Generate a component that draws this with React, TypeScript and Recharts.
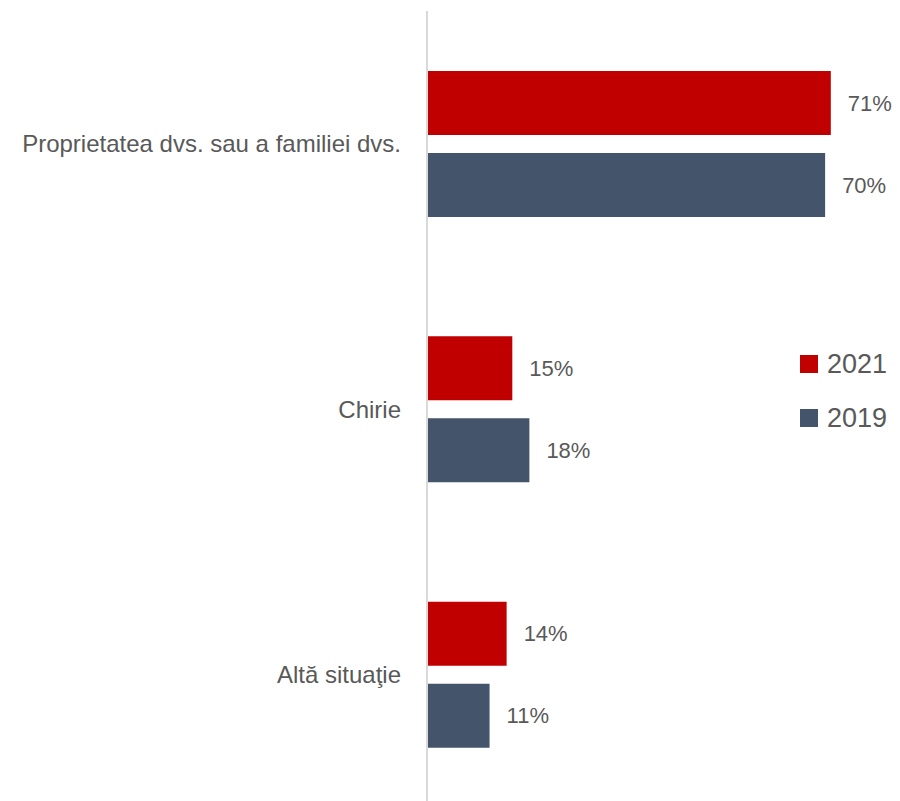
import React from 'react'
import { BarChart, Bar, XAxis, YAxis, LabelList } from 'recharts'

const categories = ['Proprietatea dvs. sau a familiei dvs.', 'Chirie', 'Altă situaţie']
const values2021 = [71, 15, 14]
const values2019 = [70, 18, 11]

const SERIES = [
  { key: 'y2021', name: '2021', color: '#C00000' },
  { key: 'y2019', name: '2019', color: '#44546A' },
]

const FONT = '"Liberation Sans", Arial, sans-serif'
const TEXT = '#595959'

const data = categories.map((name, i) => ({ name, y2021: values2021[i], y2019: values2019[i] }))

export default function App() {
  return (
    <div style={{ position: 'absolute', left: 0, top: 0, width: 900, height: 801, overflow: 'hidden', background: '#fff' }}>
      <BarChart
        width={900}
        height={807}
        data={data}
        layout="vertical"
        margin={{ top: 11, right: 18, bottom: 0, left: 0 }}
        barGap={18}
      >
        <XAxis type="number" domain={[0, 80]} hide />
        <YAxis
          type="category"
          dataKey="name"
          width={427}
          axisLine={{ stroke: '#d9d9d9', strokeWidth: 2 }}
          tickLine={false}
          tickSize={0}
          tickMargin={26}
          tick={{ fill: TEXT, fontSize: 24, fontFamily: FONT }}
        />
        {SERIES.map((s) => (
          <Bar key={s.key} dataKey={s.key} name={s.name} fill={s.color} barSize={64} isAnimationActive={false}>
            <LabelList
              dataKey={s.key}
              position="right"
              offset={17}
              formatter={(v: number) => `${v}%`}
              style={{ fill: TEXT, fontSize: 22, fontFamily: FONT }}
            />
          </Bar>
        ))}
      </BarChart>
      <div style={{ position: 'absolute', left: 800, top: 337, fontFamily: FONT }}>
        {SERIES.map((s) => (
          <div key={s.key} style={{ display: 'flex', alignItems: 'center', height: 54 }}>
            <span style={{ width: 18, height: 18, background: s.color, display: 'inline-block', marginRight: 9 }} />
            <span style={{ fontSize: 27, color: TEXT }}>{s.name}</span>
          </div>
        ))}
      </div>
    </div>
  )
}
